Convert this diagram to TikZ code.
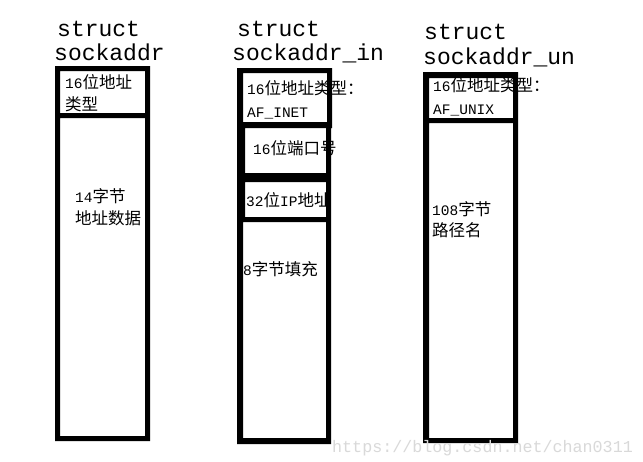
\documentclass[tikz,border=0pt]{standalone}
\usepackage{fontspec}
\newfontfamily\myCJK{Noto Sans CJK SC}
\newfontfamily\myMono{Liberation Mono}
\newcommand\dg[1]{{\myMono\fontsize{14.5}{14.5}\selectfont #1}}
\begin{document}
\begin{tikzpicture}[x=1pt,y=-1pt,
  frame/.style={fill=black, even odd rule},
  ttl/.style={anchor=base west, inner sep=0, font=\myMono\fontsize{23}{23}\selectfont},
  lbl/.style={anchor=base west, inner sep=0, font=\myCJK\fontsize{16.5}{16.5}\selectfont},
  wmark/.style={anchor=base west, inner sep=0, text=black!15, font=\myMono\fontsize{16.7}{16.7}\selectfont}]
\useasboundingbox[fill=white] (0,0) rectangle (643,461);

% titles
\node[ttl] (t1a) at (57,36) {struct};
\node[ttl] (t1b) at (54,60) {sockaddr};
\node[ttl] (t2a) at (237,36) {struct};
\node[ttl] (t2b) at (232,60) {sockaddr\_in};
\node[ttl] (t3a) at (424,39) {struct};
\node[ttl] (t3b) at (423,64) {sockaddr\_un};

% sockaddr labels
\node[lbl] (a1) at (65,88) {\dg{16}位地址};
\node[lbl] (a2) at (65,110) {类型};
\node[lbl] (a3) at (75,202) {\dg{14}字节};
\node[lbl] (a4) at (75,224) {地址数据};

% sockaddr_in labels
\node[lbl] (b1) at (247,94) {\dg{16}位地址类型：};
\node[lbl] (b2) at (247,117) {\dg{AF\_INET}};
\node[lbl] (b3) at (253,154) {\dg{16}位端口号};
\node[lbl] (b4) at (246,206) {\dg{32}位\dg{IP}地址};
\node[lbl] (b5) at (243,275) {\dg{8}字节填充};

% sockaddr_un labels
\node[lbl] (c1) at (433,91) {\dg{16}位地址类型：};
\node[lbl] (c2) at (433,114) {\dg{AF\_UNIX}};
\node[lbl] (c3) at (432,215) {\dg{108}字节};
\node[lbl] (c4) at (432,236) {路径名};

% frames
\fill[frame] (55,66) rectangle (150,441)
  (60,71) rectangle (145,113)
  (60,118) rectangle (145,436);
\fill[frame] (237,68) -- (332,68) -- (332,128) -- (331,128) -- (331,444) -- (237,444) -- cycle
  (243,73) rectangle (327,122)
  (245,128) rectangle (326,173)
  (245,182) rectangle (326,217)
  (243,222) rectangle (326,438);
\fill[frame] (423,72) rectangle (518,443)
  (429,78) rectangle (513,118)
  (429,123) rectangle (513,438);

% watermark
\node[wmark] (wm) at (332,452) {https://blog.csdn.net/chan0311};
\end{tikzpicture}
\end{document}
